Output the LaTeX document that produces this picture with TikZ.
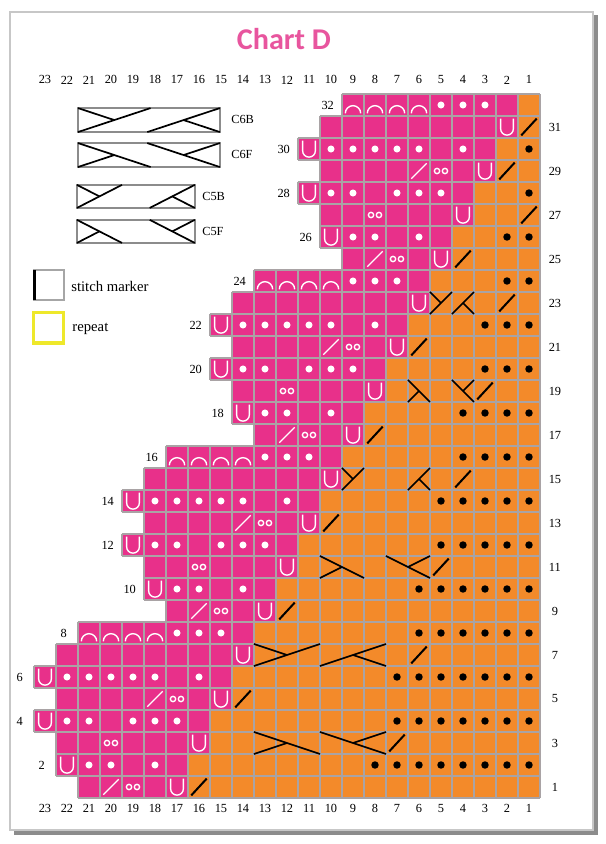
\documentclass[tikz,border=0pt]{standalone}
\usepackage{fontspec}
\setmainfont{Liberation Serif}
\newfontfamily\titlefont{Carlito}
\usetikzlibrary{calc}

\definecolor{chartpink}{HTML}{E8308A}
\definecolor{chartorange}{HTML}{F38A2A}
\definecolor{chartgrid}{HTML}{A9A3A5}
\definecolor{titlepink}{HTML}{E8559E}
\definecolor{repeatyellow}{HTML}{EEE82A}

\tikzset{
	gridline/.style={draw=chartgrid, line width=0.8pt},
	whitesym/.style={draw=white, line width=0.9pt},
	blacksym/.style={draw=black, line width=1.3pt},
	cableline/.style={draw=black, line width=1.1pt},
	legendbox/.style={draw=black!45, line width=1pt},
	numlabel/.style={font=\fontsize{8}{9}\selectfont},
	legendtext/.style={anchor=west, font=\fontsize{8}{9}\selectfont},
}

% stitch #1 of row #2 (stitch 1 is the right-hand one)
\def\wdot(#1,#2){\fill[white] ({23.5-#1},{#2-0.5}) circle (0.16);}
\def\bdot(#1,#2){\fill[black] ({23.5-#1},{#2-0.5}) circle (0.17);}
\def\wslash(#1,#2){\draw[whitesym] ({23.15-#1},{#2-0.85}) -- ({23.85-#1},{#2-0.15});}
\def\bslash(#1,#2){\draw[blacksym] ({23.15-#1},{#2-0.88}) -- ({23.85-#1},{#2-0.12});}
\def\wyo(#1,#2){\draw[whitesym] ({23.32-#1},{#2-0.5}) circle (0.12) ({23.68-#1},{#2-0.5}) circle (0.12);}
\def\warc(#1,#2){\draw[whitesym] ({23.85-#1},{#2-0.88}) arc (0:180:0.35);}
\def\wU(#1,#2){\draw[whitesym] ({23.21-#1},{#2-0.12}) -- ({23.21-#1},{#2-0.58}) arc (180:360:0.29) -- ({23.79-#1},{#2-0.12});}
% cables: (left, bottom)(width, long leg, height)
\def\cableB(#1,#2)(#3,#4,#5){%
	\draw[cableline] (#1,#2) -- ({#1+#4},{#2+#5});
	\draw[cableline] (#1,{#2+#5}) -- ({#1+#4/2},{#2+#5/2});
	\draw[cableline] ({#1+#3-#4},#2) -- ({#1+#3},{#2+#5});
	\draw[cableline] ({#1+#3-#4/2},{#2+#5/2}) -- ({#1+#3},#2);
}
\def\cableF(#1,#2)(#3,#4,#5){%
	\draw[cableline] (#1,{#2+#5}) -- ({#1+#4},#2);
	\draw[cableline] (#1,#2) -- ({#1+#4/2},{#2+#5/2});
	\draw[cableline] ({#1+#3-#4},{#2+#5}) -- ({#1+#3},#2);
	\draw[cableline] ({#1+#3-#4/2},{#2+#5/2}) -- ({#1+#3},{#2+#5});
}

\begin{document}
\begin{tikzpicture}[x=0.5cm, y=0.5cm]
	%%%%% START %%%%%
	\useasboundingbox (-1.545,-2.091) rectangle (26.0,36.273);
	
	% page
	\fill[black!45] (-0.9,-1.7) rectangle (25.64,35.58);
	\filldraw[fill=white, draw=black!22, line width=1.5pt] (-1.09,-1.45) rectangle (25.41,35.73);
	
	\node[font=\titlefont\bfseries\fontsize{19.5}{22}\selectfont, text=titlepink] (title) at (11.36,34.5) {Chart D};
	
	% rows: row / first stitch / last pink stitch
	\foreach \r/\s/\p in {32/9/2, 31/10/2, 30/11/3, 29/10/3, 28/11/4, 27/10/4, 26/10/5, 25/9/5,
		24/13/6, 23/14/6, 22/15/7, 21/14/7, 20/15/8, 19/14/8, 18/14/9, 17/13/9,
		16/17/10, 15/18/10, 14/19/11, 13/18/11, 12/19/12, 11/18/12, 10/18/13, 9/17/13,
		8/21/14, 7/22/14, 6/23/15, 5/22/15, 4/23/16, 3/22/16, 2/22/17, 1/21/17}{
		\fill[chartpink] ({23-\s},{\r-1}) rectangle ({24-\p},\r);
		\fill[chartorange] ({24-\p},{\r-1}) rectangle (23,\r);
		\draw[gridline, step=1] ({23-\s},{\r-1}) grid (23,\r);
	}
	\foreach \r/\s in {32/9, 30/11, 28/11, 26/10, 24/13, 22/15, 20/15, 18/14,
		16/17, 14/19, 12/19, 10/18, 8/21, 6/23, 4/23, 2/22}
		\node[numlabel] (row\r) at ({22.35-\s},{\r-0.5}) {\r};
	\foreach \r in {31,29,...,1}
		\node[numlabel] (row\r) at (23.68,{\r-0.5}) {\r};
	
	\foreach \c in {1,...,23}{
		\node[numlabel] (top\c) at ({23.5-\c},32.64) {\c};
		\node[numlabel] (bot\c) at ({23.5-\c},-0.47) {\c};
	}
	
	% pink side
	\foreach \r/\cols in {32/{5,4,3}, 30/{10,9,8,7,6,4}, 28/{10,9,7,6,5}, 26/{9,8,6},
		24/{9,8,7}, 22/{14,13,12,11,10,8}, 20/{14,13,11,10,9}, 18/{13,12,10},
		16/{13,12,11}, 14/{18,17,16,15,14,12}, 12/{18,17,15,14,13}, 10/{17,16,14},
		8/{17,16,15}, 6/{22,21,20,19,18,16}, 4/{22,21,19,18,17}, 2/{21,20,18}}
		\foreach \c in \cols {\wdot(\c,\r)}
	\foreach \r/\cols in {32/{9,8,7,6}, 24/{13,12,11,10}, 16/{17,16,15,14}, 8/{21,20,19,18}}
		\foreach \c in \cols {\warc(\c,\r)}
	\foreach \c/\r in {2/31, 11/30, 3/29, 11/28, 4/27, 10/26, 5/25, 6/23, 15/22, 7/21, 15/20, 8/19, 14/18, 9/17,
		10/15, 19/14, 11/13, 19/12, 12/11, 18/10, 13/9, 14/7, 23/6, 15/5, 23/4, 16/3, 22/2, 17/1}
		{\wU(\c,\r)}
	\foreach \c/\r in {5/29, 8/27, 7/25, 9/21, 12/19, 11/17, 13/13, 16/11, 15/9, 17/5, 20/3, 19/1}
		{\wyo(\c,\r)}
	\foreach \c/\r in {6/29, 8/25, 10/21, 12/17, 14/13, 16/9, 18/5, 20/1}
		{\wslash(\c,\r)}
	
	% orange side
	\foreach \r/\n in {30/1, 28/1, 26/2, 24/2, 22/3, 20/3, 18/4, 16/4, 14/5, 12/5, 10/6, 8/6, 6/7, 4/7, 2/8}
		\foreach \c in {1,...,\n} {\bdot(\c,\r)}
	\foreach \c/\r in {1/31, 2/29, 1/27, 4/25, 2/23, 6/21, 3/19, 8/17, 4/15, 10/13, 5/11, 12/9, 6/7, 14/5, 7/3, 16/1}
		{\bslash(\c,\r)}
	\cableB(18,22)(2,1,1)
	\cableF(17,18)(3,1,1)
	\cableB(14,14)(4,1,1)
	\cableF(13,10)(5,2,1)
	\cableB(10,6)(6,3,1)
	\cableF(10,2)(6,3,1)
	
	% key
	\draw[legendbox] (2.0,30.27) rectangle ++(6.45,1.09);
	\cableB(2.0,30.27)(6.45,3.3,1.09)
	\node[legendtext] (keyC6B) at (8.72,30.82) {C6B};
	\draw[legendbox] (2.0,28.68) rectangle ++(6.45,1.09);
	\cableF(2.0,28.68)(6.45,3.3,1.09)
	\node[legendtext] (keyC6F) at (8.72,29.23) {C6F};
	\draw[legendbox] (1.95,26.82) rectangle ++(5.36,1.05);
	\cableB(1.95,26.82)(5.36,2.05,1.05)
	\node[legendtext] (keyC5B) at (7.4,27.32) {C5B};
	\draw[legendbox] (1.95,25.23) rectangle ++(5.36,1.05);
	\cableF(1.95,25.23)(5.36,2.05,1.05)
	\node[legendtext] (keyC5F) at (7.4,25.73) {C5F};
	
	\draw[draw=black!35, line width=1pt] (-0.03,22.64) rectangle (1.36,24.0);
	\draw[line width=2.4pt] (0.02,22.64) -- (0.02,24.0);
	\node[anchor=west, font=\fontsize{9.5}{11}\selectfont] (marker) at (1.45,23.25) {stitch marker};
	\draw[draw=repeatyellow, line width=2pt] (-0.03,20.68) rectangle (1.36,22.05);
	\node[anchor=west, font=\fontsize{9.5}{11}\selectfont] (repeat) at (1.5,21.3) {repeat};
	%%%%% END %%%%%
\end{tikzpicture}
\end{document}
